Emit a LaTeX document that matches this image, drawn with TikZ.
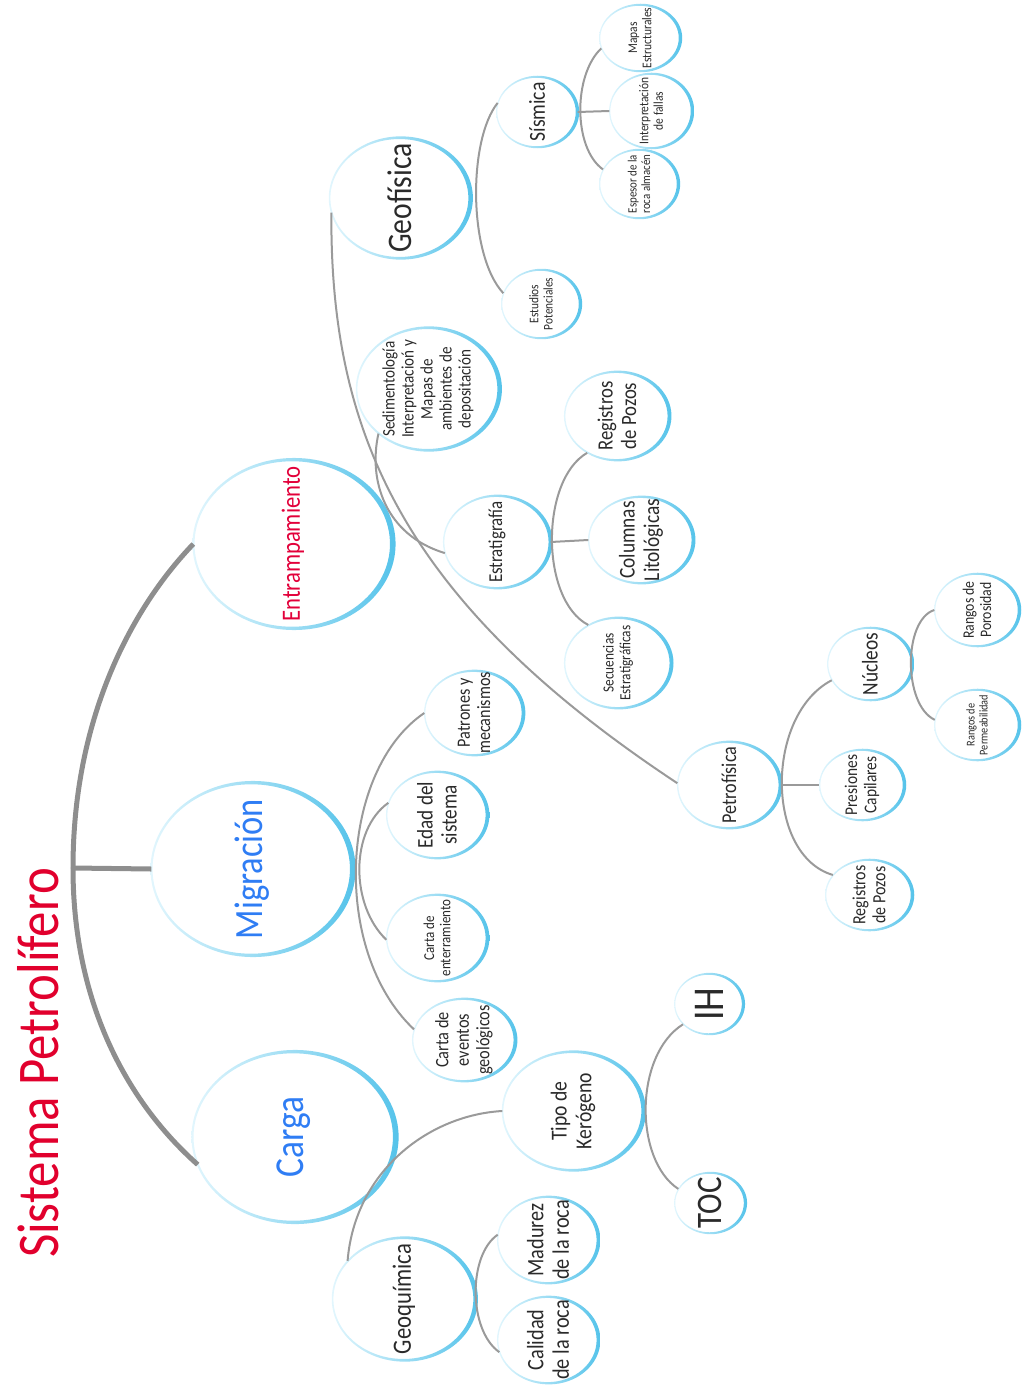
\documentclass[tikz,border=0pt]{standalone}
\usepackage{fontspec}
\setmainfont{Carlito}
\usetikzlibrary{shapes.geometric}

\definecolor{ringlt}{HTML}{E2F6FD}
\definecolor{ringdk}{HTML}{55C3EA}
\definecolor{linkgray}{HTML}{9A9A9A}
\definecolor{trunkgray}{HTML}{8E8E8E}
\definecolor{titlered}{HTML}{E1002D}
\definecolor{redtxt}{HTML}{E2003A}
\definecolor{bluetxt}{HTML}{2F7DF4}
\definecolor{txtgray}{HTML}{2A2A2A}

\begin{document}
\begin{tikzpicture}[x=0.01cm, y=-0.01cm,
    bubble/.style={ellipse, inner sep=0pt},
    ring/.style={even odd rule, left color=ringlt, right color=ringdk},
    txt/.style={rotate=90, xscale=0.86, align=center, inner sep=0pt},
    title/.style={rotate=90, xscale=0.86, inner sep=0pt, text=titlered, font=\fontsize{16.8}{18}\selectfont},
    trunk/.style={draw=trunkgray, line width=0.05cm},
    link/.style={draw=linkgray, line width=0.02cm}
]
\useasboundingbox (0,0) rectangle (1029,1385);

% Title
\node[title] (sys) at (38,1063) {Sistema Petrolífero};
\coordinate (root) at (73,868);

% Bubbles: name/x/y/rx/ry/size/colour/text
\foreach \n/\x/\y/\rx/\ry/\fs/\tc/\lbl in {
    ent/293/544/99/84/7.5/redtxt/{Entrampamiento},
    mig/252/869/100/86/11.4/bluetxt/{Migración},
    car/294/1137/101/85/11.7/bluetxt/{Carga},
    geo/400/198/70/60/9.8/txtgray/{Geofísica},
    sis/537/112/40/35/6.5/txtgray/{Sísmica},
    map/640/38/40/33/3.8/txtgray/{Mapas\\Estructurales},
    fal/651/111/41/37/3.8/txtgray/{Interpretación\\de fallas},
    esp/639/184/39/34/3.6/txtgray/{Espesor de la\\roca almacén},
    pot/541/304/39/34/3.75/txtgray/{Estudios\\Potenciales},
    sed/428/389/71/61/5.0/txtgray/{Sedimentología\\Interpretacioń y\\Mapas de\\ambientes de\\depositación},
    est/497/542/53/46/5.6/txtgray/{Estratigrafía},
    rpa/617/416/52/44/6.2/txtgray/{Registros\\de Pozos},
    col/641/540/52/43/6.4/txtgray/{Columnas\\Litológicas},
    sec/618/663/53/45/4.4/txtgray/{Secuencias\\Estratigráficas},
    pet/729/785/51/43/6.0/txtgray/{Petrofísica},
    nuc/870/664/42/36/6.4/txtgray/{Núcleos},
    pre/862/785/42/35/5.1/txtgray/{Presiones\\Capilares},
    rpb/869/895/43/35/5.3/txtgray/{Registros\\de Pozos},
    por/977/610/42/36/4.55/txtgray/{Rangos de\\Porosidad},
    per/977/725/42/35/3.4/txtgray/{Rangos de\\Permeabilidad},
    pat/474/713/49/42/5.35/txtgray/{Patrones y\\mecanismos},
    eda/437/815/50/43/6.35/txtgray/{Edad del\\sistema},
    ctr/437/938/50/43/4.3/txtgray/{Carta de\\enterramiento},
    eve/464/1040/51/41/5.4/txtgray/{Carta de\\eventos\\geológicos},
    ker/573/1111/70/59/6.5/txtgray/{Tipo de\\Kerógeno},
    gqu/404/1299/71/61/7.5/txtgray/{Geoquímica},
    mad/548/1240/50/43/6.7/txtgray/{Madurez\\de la roca},
    cal/548/1340/50/43/6.7/txtgray/{Calidad\\de la roca},
    ih/709/1004/34/30/12.5/txtgray/{IH},
    toc/710/1203/35/30/10.2/txtgray/{TOC}}
{
    \pgfmathsetmacro\w{0.9+\rx/60}
    \pgfmathsetmacro\bs{1.08*\fs}
    \shade[ring] (\x+0.4*\w,\y) ellipse [x radius=\rx+\w, y radius=\ry+0.8*\w]
                 (\x-0.3*\w,\y) ellipse [x radius=\rx-0.5*\w, y radius=\ry-0.5*\w];
    \node[bubble, minimum width=2*\rx*0.01cm, minimum height=2*\ry*0.01cm] (\n) at (\x,\y) {};
    \node[txt, text=\tc, font=\fontsize{\fs}{\bs}\selectfont] (\n-t) at (\n) {\lbl};
}

% Trunk
\draw[trunk] (ent.180) .. controls (130,610) and (73,720) .. (root)
             .. controls (73,1000) and (125,1100) .. (car.196);
\draw[trunk] (root) -- (mig.180);

% Entrampamiento
\draw[link] (geo.192) .. controls (330,430) and (400,600) .. (pet.178);
\draw[link] (sed.222) .. controls (368,480) and (385,535) .. (est.192);
\draw[link] (sis.167) .. controls (468,140) and (468,255) .. (pot.164);
\draw[link] (sis.east) -- (fal.west);
\draw[link] (map.195) .. controls (573,75) and (573,148) .. (esp.158);
\draw[link] (est.east) -- (col.west);
\draw[link] (rpa.231) .. controls (540,480) and (540,600) .. (sec.128);
\draw[link] (pet.east) -- (pre.west);
\draw[link] (nuc.203) .. controls (765,715) and (765,855) .. (rpb.151);
\draw[link] (por.180) .. controls (903,620) and (903,705) .. (per.173);

% Migracion
\draw[link] (pat.180) .. controls (340,770) and (330,950) .. (eve.168);
\draw[link] (eda.166) .. controls (350,830) and (350,905) .. (ctr.182);

% Carga
\draw[link] (ker.180) .. controls (430,1115) and (355,1170) .. (gqu.146);
\draw[link] (mad.174) .. controls (468,1255) and (468,1330) .. (cal.194);
\draw[link] (ih.218) .. controls (634,1055) and (634,1160) .. (toc.156);
\end{tikzpicture}
\end{document}
